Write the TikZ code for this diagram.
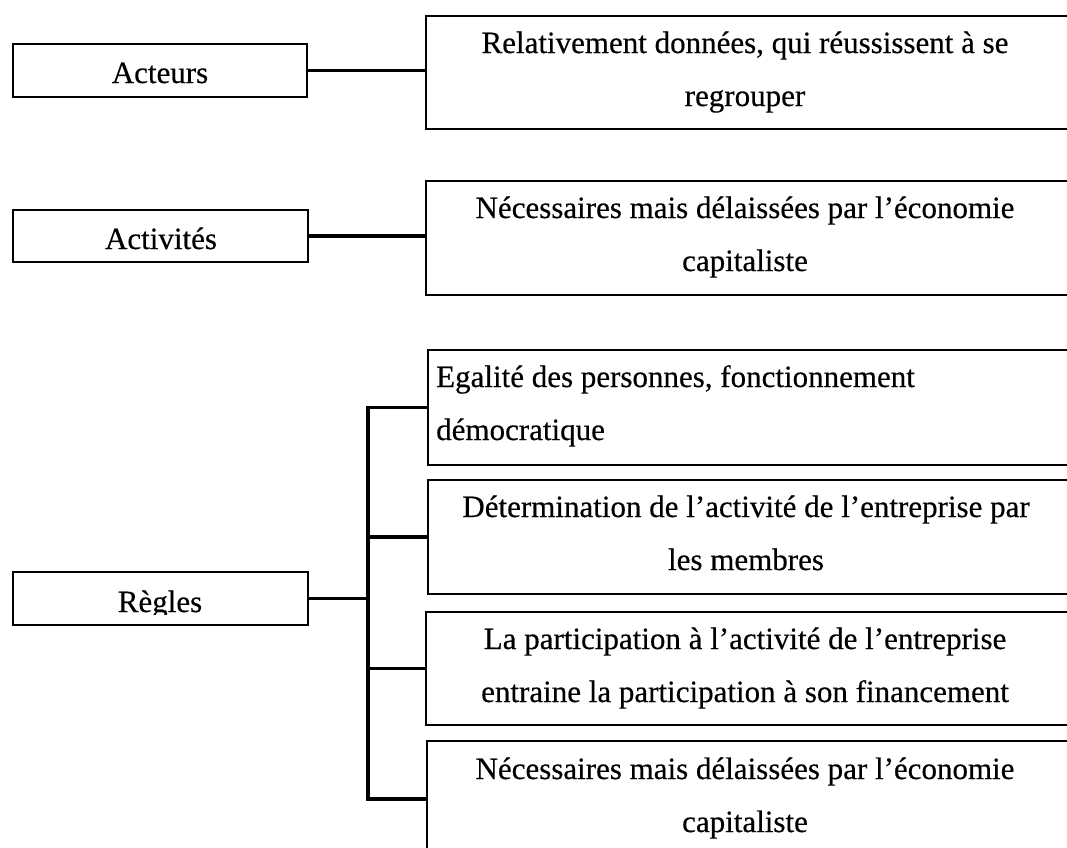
\documentclass[tikz,border=0pt]{standalone}
\usepackage{fontspec}
\setmainfont{Liberation Serif}[FakeBold=0.4]
\begin{document}
\begin{tikzpicture}[x=1pt,y=-1pt,
  lbox/.style={draw, line width=2pt, rectangle, inner sep=0pt, anchor=north west},
  conn/.style={line width=3.2pt},
  lbl/.style={anchor=base, inner sep=0pt, font=\fontsize{31}{31}\selectfont},
  rtxt/.style={anchor=base, inner sep=0pt, font=\fontsize{31}{31}\selectfont},
  ltxt/.style={anchor=base west, inner sep=0pt, font=\fontsize{31}{31}\selectfont}]
\useasboundingbox (0,0) rectangle (1067,847);
\clip (0,0) rectangle (1067,847);
% left boxes
\node[lbox, minimum width=294pt, minimum height=53pt] (acteurs) at (12,43) {};
\node[lbox, minimum width=295pt, minimum height=52pt] (activites) at (12,209) {};
\node[lbox, minimum width=295pt, minimum height=53pt] (regles) at (12,571) {};
\node[lbl] (tacteurs) at (160,83) {Acteurs};
\node[lbl] (tactivites) at (161,249) {Activités};
\begin{scope}
\clip (12,560) rectangle (307,614);
\node[lbl] (tregles) at (160,612) {Règles};
\end{scope}
% right boxes
\node[lbox, minimum width=660pt, minimum height=113pt] (r1) at (425,15) {};
\node[lbox, minimum width=660pt, minimum height=114pt] (r2) at (425,180) {};
\node[lbox, minimum width=660pt, minimum height=115pt] (ra) at (427,349) {};
\node[lbox, minimum width=660pt, minimum height=114pt] (rb) at (427,479) {};
\node[lbox, minimum width=660pt, minimum height=113pt] (rc) at (425,611) {};
\node[lbox, minimum width=660pt, minimum height=116pt] (rd) at (426,740) {};
% texts
\node[rtxt] (t1a) at (745,53) {Relativement données, qui réussissent à se};
\node[rtxt] (t1b) at (745,106) {regrouper};
\node[rtxt] (t2a) at (745,218) {Nécessaires mais délaissées par l’économie};
\node[rtxt] (t2b) at (745,271) {capitaliste};
\node[ltxt] (taa) at (436,387) {Egalité des personnes, fonctionnement};
\node[ltxt] (tab) at (436,440) {démocratique};
\node[rtxt] (tba) at (746,517) {Détermination de l’activité de l’entreprise par};
\node[rtxt] (tbb) at (746,570) {les membres};
\node[rtxt] (tca) at (745,649) {La participation à l’activité de l’entreprise};
\node[rtxt] (tcb) at (745,702) {entraine la participation à son financement};
\node[rtxt] (tda) at (745,779) {Nécessaires mais délaissées par l’économie};
\node[rtxt] (tdb) at (745,832) {capitaliste};
% connectors
\draw[conn] (acteurs.east) -- (acteurs.east -| r1.west);
\draw[conn] (activites.east) -- (activites.east -| r2.west);
\coordinate (trunk) at (368,0);
\draw[conn] (ra.west) -- (ra.west -| trunk) -- (rd.west -| trunk) -- (rd.west);
\draw[conn] (rb.west) -- (rb.west -| trunk);
\draw[conn] (rc.west) -- (rc.west -| trunk);
\draw[conn] (regles.east) -- (regles.east -| trunk);
\end{tikzpicture}
\end{document}
